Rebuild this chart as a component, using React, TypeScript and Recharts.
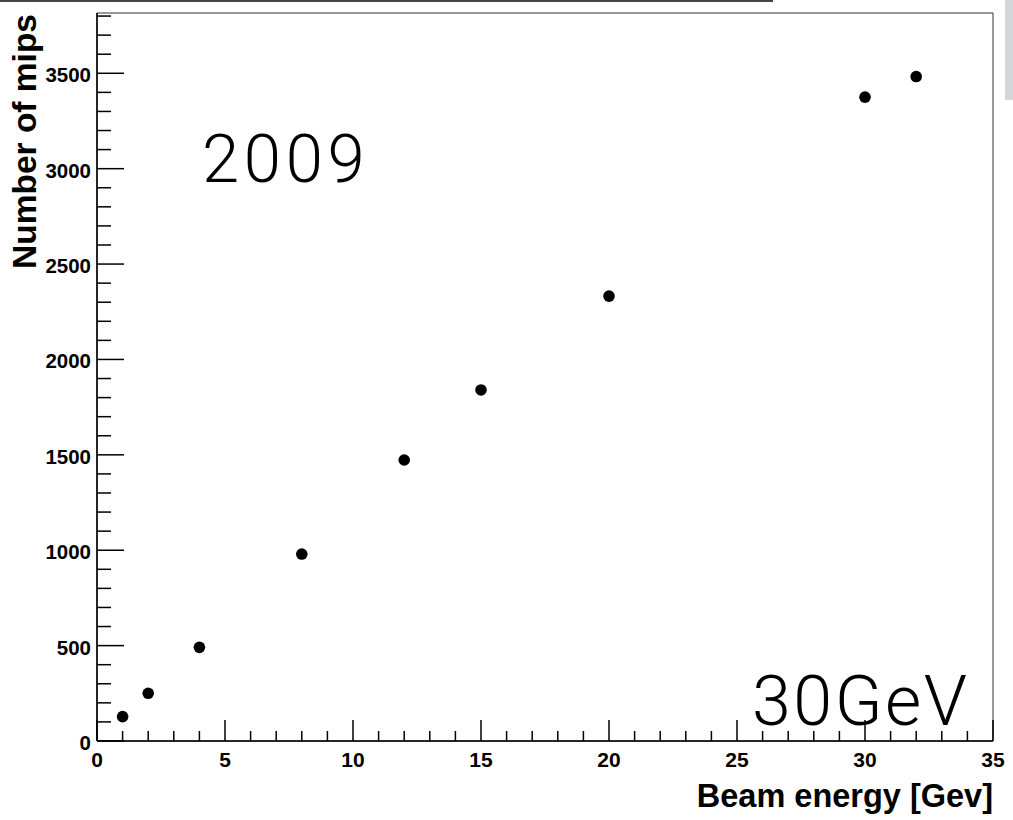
import React from "react";
import { ScatterChart, Scatter, XAxis, YAxis, ReferenceArea } from "recharts";

// beam energy [GeV] and number of mips
const beamEnergy = [1, 2, 4, 8, 12, 15, 20, 30, 32];
const mips = [128, 250, 491, 980, 1473, 1840, 2332, 3375, 3483];

const xTicks = [
  0, 1, 2, 3, 4, 5, 6, 7, 8, 9, 10, 11, 12, 13, 14, 15, 16, 17, 18, 19, 20,
  21, 22, 23, 24, 25, 26, 27, 28, 29, 30, 31, 32, 33, 34, 35,
];
const yTicks = [
  0, 100, 200, 300, 400, 500, 600, 700, 800, 900, 1000, 1100, 1200, 1300,
  1400, 1500, 1600, 1700, 1800, 1900, 2000, 2100, 2200, 2300, 2400, 2500,
  2600, 2700, 2800, 2900, 3000, 3100, 3200, 3300, 3400, 3500, 3600, 3700,
  3800,
];

const X_MAX = 35;
const Y_MAX = 3816;

const FONT = '"Liberation Sans", Arial, Helvetica, sans-serif';
const THIN_FONT = 'Roboto, "Liberation Sans", Arial, sans-serif';
const INK = "#000";

const data = beamEnergy.map((e, i) => ({ x: e, y: mips[i] }));

function XTick(props: any) {
  const { x, y, payload } = props;
  const major = payload.value % 5 === 0;
  return (
    <g>
      <line x1={x} x2={x} y1={y} y2={y - (major ? 21 : 10)} stroke={INK} strokeWidth={1.5} />
      {major && (
        <text x={x} y={y + 26} textAnchor="middle" fontFamily={FONT} fontWeight="bold" fontSize={21} fill={INK}>
          {payload.value}
        </text>
      )}
    </g>
  );
}

function YTick(props: any) {
  const { x, y, payload } = props;
  const major = payload.value % 500 === 0;
  return (
    <g>
      <line x1={x} x2={x + (major ? 27 : 14)} y1={y} y2={y} stroke={INK} strokeWidth={1.5} />
      {major && (
        <text x={x - 6} y={y + 9} textAnchor="end" fontFamily={FONT} fontWeight="bold" fontSize={20.5} fill={INK}>
          {payload.value}
        </text>
      )}
    </g>
  );
}

export default function App() {
  return (
    <div style={{ position: "absolute", left: 0, top: 0, width: 1013, height: 820, background: "#fff" }}>
      <div style={{ position: "absolute", left: 0, top: 0, width: 773, height: 2, background: "#444" }} />
      <div style={{ position: "absolute", left: 1005, top: 0, width: 8, height: 100, background: "#d3d6d6" }} />
      <ScatterChart width={1013} height={820} margin={{ top: 13, right: 20, bottom: 0, left: 0 }}>
        <XAxis
          type="number"
          dataKey="x"
          domain={[0, X_MAX]}
          ticks={xTicks}
          interval={0}
          tickSize={0}
          tickMargin={0}
          tickLine={false}
          height={79}
          axisLine={{ stroke: INK, strokeWidth: 1.5 }}
          tick={(p: any) => <XTick {...p} />}
          allowDataOverflow
          label={{
            content: ({ viewBox }: any) => (
              <text
                x={viewBox.x + viewBox.width}
                y={viewBox.y + 66}
                textAnchor="end"
                fontFamily={FONT}
                fontWeight="bold"
                fontSize={32.5}
                fill={INK}
              >
                Beam energy [Gev]
              </text>
            ),
          }}
        />
        <YAxis
          type="number"
          dataKey="y"
          domain={[0, Y_MAX]}
          ticks={yTicks}
          interval={0}
          tickSize={0}
          tickMargin={0}
          tickLine={false}
          width={97}
          axisLine={{ stroke: INK, strokeWidth: 1.5 }}
          tick={(p: any) => <YTick {...p} />}
          allowDataOverflow
          label={{
            content: () => (
              <text
                x={36}
                y={14}
                transform="rotate(-90 36 14)"
                textAnchor="end"
                fontFamily={FONT}
                fontWeight="bold"
                fontSize={33.5}
                fill={INK}
              >
                Number of mips
              </text>
            ),
          }}
        />
        <ReferenceArea x1={0} x2={X_MAX} y1={0} y2={Y_MAX} fill="none" stroke="#333" strokeWidth={1} />
        <Scatter
          data={data}
          fill={INK}
          isAnimationActive={false}
          shape={(p: any) => <circle cx={p.cx} cy={p.cy} r={5.8} fill={INK} />}
        />
      </ScatterChart>
      <svg width={1013} height={820} style={{ position: "absolute", left: 0, top: 0, pointerEvents: "none" }}>
        <text x={202} y={182} fontFamily={THIN_FONT} fontWeight={300} fontSize={67} letterSpacing={4.7} fill={INK}>
          2009
        </text>
        <text x={752} y={725} fontFamily={THIN_FONT} fontWeight={300} fontSize={70} letterSpacing={2.5} fill={INK}>
          30GeV
        </text>
      </svg>
    </div>
  );
}
